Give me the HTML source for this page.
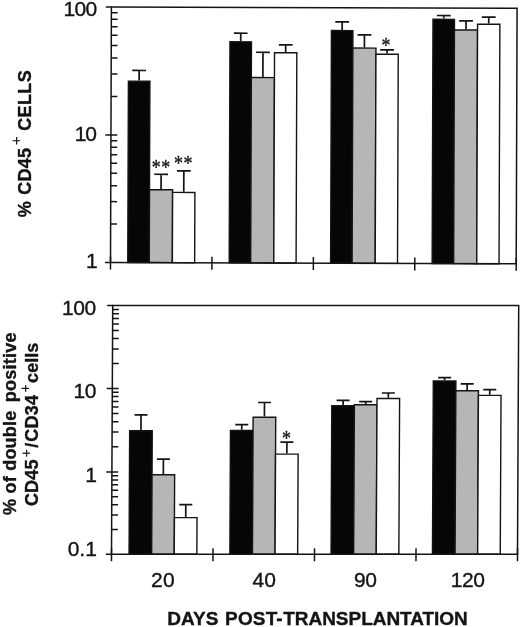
<!DOCTYPE html>
<html><head><meta charset="utf-8"><title>Figure</title><style>html,body{margin:0;padding:0;background:#fff;overflow:hidden}</style></head><body>
<svg width="520" height="627" viewBox="0 0 520 627" style="display:block;filter:blur(0.3px)">
<rect width="520" height="627" fill="#fff"/>
<g transform="translate(110.5,262.4) rotate(0.2) skewX(0) translate(-110.5,-262.4)">
<rect x="127.76" y="81.10" width="21.50" height="181.30" fill="#060606" stroke="#141414" stroke-width="1.4"/>
<path d="M138.51 80.40V70.40M131.61 70.40H145.41" fill="none" stroke="#141414" stroke-width="1.7"/>
<rect x="149.26" y="189.60" width="23.10" height="72.80" fill="#b6b6b6" stroke="#141414" stroke-width="1.4"/>
<path d="M160.81 188.90V174.10M153.91 174.10H167.71" fill="none" stroke="#141414" stroke-width="1.7"/>
<rect x="172.36" y="192.20" width="22.30" height="70.20" fill="#ffffff" stroke="#141414" stroke-width="1.4"/>
<path d="M183.51 191.50V170.60M176.61 170.60H190.41" fill="none" stroke="#141414" stroke-width="1.7"/>
<rect x="229.19" y="41.35" width="21.50" height="221.05" fill="#060606" stroke="#141414" stroke-width="1.4"/>
<path d="M239.94 40.65V32.75M233.04 32.75H246.84" fill="none" stroke="#141414" stroke-width="1.7"/>
<rect x="250.69" y="77.05" width="23.10" height="185.35" fill="#b6b6b6" stroke="#141414" stroke-width="1.4"/>
<path d="M262.24 76.35V51.75M255.34 51.75H269.14" fill="none" stroke="#141414" stroke-width="1.7"/>
<rect x="273.79" y="52.15" width="22.30" height="210.25" fill="#ffffff" stroke="#141414" stroke-width="1.4"/>
<path d="M284.94 51.45V44.25M278.04 44.25H291.84" fill="none" stroke="#141414" stroke-width="1.7"/>
<rect x="330.61" y="29.80" width="21.50" height="232.60" fill="#060606" stroke="#141414" stroke-width="1.4"/>
<path d="M341.36 29.10V21.10M334.46 21.10H348.26" fill="none" stroke="#141414" stroke-width="1.7"/>
<rect x="352.11" y="47.20" width="23.10" height="215.20" fill="#b6b6b6" stroke="#141414" stroke-width="1.4"/>
<path d="M363.66 46.50V34.00M356.76 34.00H370.56" fill="none" stroke="#141414" stroke-width="1.7"/>
<rect x="375.21" y="53.30" width="22.30" height="209.10" fill="#ffffff" stroke="#141414" stroke-width="1.4"/>
<path d="M386.36 52.60V48.90M379.46 48.90H393.26" fill="none" stroke="#141414" stroke-width="1.7"/>
<rect x="432.14" y="18.15" width="21.50" height="244.25" fill="#060606" stroke="#141414" stroke-width="1.4"/>
<path d="M442.89 17.45V14.35M435.99 14.35H449.79" fill="none" stroke="#141414" stroke-width="1.7"/>
<rect x="453.64" y="28.75" width="23.10" height="233.65" fill="#b6b6b6" stroke="#141414" stroke-width="1.4"/>
<path d="M465.19 28.05V19.65M458.29 19.65H472.09" fill="none" stroke="#141414" stroke-width="1.7"/>
<rect x="476.74" y="22.95" width="22.30" height="239.45" fill="#ffffff" stroke="#141414" stroke-width="1.4"/>
<path d="M487.89 22.25V15.85M480.99 15.85H494.79" fill="none" stroke="#141414" stroke-width="1.7"/>
<rect x="110.5" y="6.9" width="405.70000000000005" height="255.49999999999997" fill="none" stroke="#141414" stroke-width="1.5"/>
<path d="M104.90 262.40H110.50M110.5 224.05H116.80M110.5 201.61H116.80M110.5 185.70H116.80M110.5 173.35H116.80M110.5 163.26H116.80M110.5 154.73H116.80M110.5 147.35H116.80M110.5 140.83H116.80M104.90 135.00H116.80M110.5 96.44H116.80M110.5 73.88H116.80M110.5 57.88H116.80M110.5 45.46H116.80M110.5 35.32H116.80M110.5 26.74H116.80M110.5 19.31H116.80M110.5 12.76H116.80M104.90 6.90H110.50M110.50 256.40V269.40M211.93 256.40V269.40M313.35 256.40V269.40M414.78 256.40V269.40M516.20 256.40V269.40" fill="none" stroke="#141414" stroke-width="1.5"/>
</g>
<g transform="translate(111.5,554.2) skewX(-0.28) translate(-111.5,-554.2)">
<rect x="129.05" y="430.80" width="22.60" height="123.40" fill="#060606" stroke="#141414" stroke-width="1.4"/>
<path d="M140.35 430.10V414.90M133.85 414.90H146.85" fill="none" stroke="#141414" stroke-width="1.7"/>
<rect x="151.65" y="474.70" width="22.60" height="79.50" fill="#b6b6b6" stroke="#141414" stroke-width="1.4"/>
<path d="M162.95 474.00V459.20M156.45 459.20H169.45" fill="none" stroke="#141414" stroke-width="1.7"/>
<rect x="174.25" y="517.60" width="22.60" height="36.60" fill="#ffffff" stroke="#141414" stroke-width="1.4"/>
<path d="M185.55 516.90V504.60M179.05 504.60H192.05" fill="none" stroke="#141414" stroke-width="1.7"/>
<rect x="229.85" y="430.50" width="22.60" height="123.70" fill="#060606" stroke="#141414" stroke-width="1.4"/>
<path d="M241.15 429.80V424.70M234.65 424.70H247.65" fill="none" stroke="#141414" stroke-width="1.7"/>
<rect x="252.45" y="417.20" width="22.60" height="137.00" fill="#b6b6b6" stroke="#141414" stroke-width="1.4"/>
<path d="M263.75 416.50V402.50M257.25 402.50H270.25" fill="none" stroke="#141414" stroke-width="1.7"/>
<rect x="275.05" y="454.10" width="22.60" height="100.10" fill="#ffffff" stroke="#141414" stroke-width="1.4"/>
<path d="M286.35 453.40V442.20M279.85 442.20H292.85" fill="none" stroke="#141414" stroke-width="1.7"/>
<rect x="331.05" y="405.70" width="22.60" height="148.50" fill="#060606" stroke="#141414" stroke-width="1.4"/>
<path d="M342.35 405.00V400.40M335.85 400.40H348.85" fill="none" stroke="#141414" stroke-width="1.7"/>
<rect x="353.65" y="404.70" width="22.60" height="149.50" fill="#b6b6b6" stroke="#141414" stroke-width="1.4"/>
<path d="M364.95 404.00V401.70M358.45 401.70H371.45" fill="none" stroke="#141414" stroke-width="1.7"/>
<rect x="376.25" y="398.50" width="22.60" height="155.70" fill="#ffffff" stroke="#141414" stroke-width="1.4"/>
<path d="M387.55 397.80V393.00M381.05 393.00H394.05" fill="none" stroke="#141414" stroke-width="1.7"/>
<rect x="432.45" y="380.90" width="22.60" height="173.30" fill="#060606" stroke="#141414" stroke-width="1.4"/>
<path d="M443.75 380.20V377.60M437.25 377.60H450.25" fill="none" stroke="#141414" stroke-width="1.7"/>
<rect x="455.05" y="390.70" width="22.60" height="163.50" fill="#b6b6b6" stroke="#141414" stroke-width="1.4"/>
<path d="M466.35 390.00V383.80M459.85 383.80H472.85" fill="none" stroke="#141414" stroke-width="1.7"/>
<rect x="477.65" y="395.40" width="22.60" height="158.80" fill="#ffffff" stroke="#141414" stroke-width="1.4"/>
<path d="M488.95 394.70V389.60M482.45 389.60H495.45" fill="none" stroke="#141414" stroke-width="1.7"/>
<rect x="111.5" y="305.6" width="406.0" height="248.60000000000002" fill="none" stroke="#141414" stroke-width="1.5"/>
<path d="M105.90 554.20H111.50M111.5 529.43H117.80M111.5 514.93H117.80M111.5 504.65H117.80M111.5 496.67H117.80M111.5 490.16H117.80M111.5 484.65H117.80M111.5 479.88H117.80M111.5 475.67H117.80M105.90 471.90H117.80M111.5 446.79H117.80M111.5 432.11H117.80M111.5 421.69H117.80M111.5 413.61H117.80M111.5 407.00H117.80M111.5 401.42H117.80M111.5 396.58H117.80M111.5 392.32H117.80M105.90 388.50H117.80M111.5 363.54H117.80M111.5 348.95H117.80M111.5 338.59H117.80M111.5 330.56H117.80M111.5 323.99H117.80M111.5 318.44H117.80M111.5 313.63H117.80M111.5 309.39H117.80M105.90 305.60H111.50M111.50 548.20V561.20M213.00 548.20V561.20M314.50 548.20V561.20M416.00 548.20V561.20M517.50 548.20V561.20" fill="none" stroke="#141414" stroke-width="1.5"/>
</g>
<text transform="translate(63.52,16.10) scale(1.0,1)" font-family="Liberation Sans, sans-serif" font-size="21" font-weight="normal" letter-spacing="-0.727" fill="#141414" stroke="#141414" stroke-width="0.35">100</text>
<text transform="translate(74.72,140.80) scale(1.0,1)" font-family="Liberation Sans, sans-serif" font-size="21" font-weight="normal" letter-spacing="-1.247" fill="#141414" stroke="#141414" stroke-width="0.35">10</text>
<text x="97.60" y="267.80" text-anchor="end" font-family="Liberation Sans, sans-serif" font-size="21" font-weight="normal" fill="#141414" stroke="#141414" stroke-width="0.35">1</text>
<text transform="translate(62.02,315.30) scale(1.0,1)" font-family="Liberation Sans, sans-serif" font-size="21" font-weight="normal" letter-spacing="-0.377" fill="#141414" stroke="#141414" stroke-width="0.35">100</text>
<text transform="translate(73.52,398.40) scale(1.0,1)" font-family="Liberation Sans, sans-serif" font-size="21" font-weight="normal" letter-spacing="-0.547" fill="#141414" stroke="#141414" stroke-width="0.35">10</text>
<text x="96.90" y="482.10" text-anchor="end" font-family="Liberation Sans, sans-serif" font-size="21" font-weight="normal" fill="#141414" stroke="#141414" stroke-width="0.35">1</text>
<text x="96.90" y="556.00" text-anchor="end" font-family="Liberation Sans, sans-serif" font-size="21" font-weight="normal" fill="#141414" stroke="#141414" stroke-width="0.35">0.1</text>
<text transform="translate(150.95,587.00) scale(1.0,1)" font-family="Liberation Sans, sans-serif" font-size="21" font-weight="normal" letter-spacing="0.328" fill="#141414" stroke="#141414" stroke-width="0.35">20</text>
<text transform="translate(252.53,587.00) scale(1.0,1)" font-family="Liberation Sans, sans-serif" font-size="21" font-weight="normal" letter-spacing="-0.050" fill="#141414" stroke="#141414" stroke-width="0.35">40</text>
<text transform="translate(354.00,587.10) scale(1.0,1)" font-family="Liberation Sans, sans-serif" font-size="21" font-weight="normal" letter-spacing="-0.425" fill="#141414" stroke="#141414" stroke-width="0.35">90</text>
<text transform="translate(450.73,587.10) scale(1.0,1)" font-family="Liberation Sans, sans-serif" font-size="21" font-weight="normal" letter-spacing="-0.427" fill="#141414" stroke="#141414" stroke-width="0.35">120</text>
<text transform="translate(167.32,624.60) scale(1.055,1)" font-family="Liberation Sans, sans-serif" font-size="18" font-weight="bold" letter-spacing="0.002" fill="#141414" stroke="#141414" stroke-width="0.35">DAYS</text>
<text transform="translate(225.12,624.60) scale(1.055,1)" font-family="Liberation Sans, sans-serif" font-size="18" font-weight="bold" letter-spacing="0.135" fill="#141414" stroke="#141414" stroke-width="0.35">POST-</text>
<text transform="translate(283.26,624.60) scale(1.055,1)" font-family="Liberation Sans, sans-serif" font-size="18" font-weight="bold" letter-spacing="-0.030" fill="#141414" stroke="#141414" stroke-width="0.35">TRANSPLANTATION</text>
<text transform="translate(30.50,216.80) rotate(-90)" x="-0.54" y="0" font-family="Liberation Sans, sans-serif" font-size="18" font-weight="bold" letter-spacing="0.000" fill="#141414" stroke="#141414" stroke-width="0.35">%</text>
<text transform="translate(30.50,194.60) rotate(-90)" x="-0.22" y="0" font-family="Liberation Sans, sans-serif" font-size="18" font-weight="bold" letter-spacing="0.275" fill="#141414" stroke="#141414" stroke-width="0.35">CD45</text>
<text transform="translate(20.90,144.80) rotate(-90)" x="-0.53" y="0" font-family="Liberation Sans, sans-serif" font-size="15.5" font-weight="normal" letter-spacing="0.000" fill="#141414" stroke="#141414" stroke-width="0.15">+</text>
<text transform="translate(30.50,130.60) rotate(-90)" x="-0.22" y="0" font-family="Liberation Sans, sans-serif" font-size="18" font-weight="bold" letter-spacing="0.386" fill="#141414" stroke="#141414" stroke-width="0.35">CELLS</text>
<text transform="translate(15.50,515.00) rotate(-90)" x="0.05" y="0" font-family="Liberation Sans, sans-serif" font-size="18" font-weight="bold" letter-spacing="0.226" fill="#141414" stroke="#141414" stroke-width="0.35">% of double</text>
<text transform="translate(15.50,401.50) rotate(-90)" x="-0.67" y="0" font-family="Liberation Sans, sans-serif" font-size="18" font-weight="bold" letter-spacing="0.237" fill="#141414" stroke="#141414" stroke-width="0.35">positive</text>
<text transform="translate(37.80,505.80) rotate(-90)" x="-0.22" y="0" font-family="Liberation Sans, sans-serif" font-size="18" font-weight="bold" letter-spacing="0.142" fill="#141414" stroke="#141414" stroke-width="0.35">CD45</text>
<text transform="translate(30.90,456.50) rotate(-90)" x="-0.65" y="0" font-family="Liberation Sans, sans-serif" font-size="14" font-weight="normal" letter-spacing="0.000" fill="#141414" stroke="#141414" stroke-width="0.15">+</text>
<text transform="translate(37.80,447.70) rotate(-90)" x="0.00" y="0" font-family="Liberation Sans, sans-serif" font-size="18" font-weight="bold" letter-spacing="0.000" fill="#141414" stroke="#141414" stroke-width="0.35">/</text>
<text transform="translate(37.80,441.50) rotate(-90)" x="-0.22" y="0" font-family="Liberation Sans, sans-serif" font-size="18" font-weight="bold" letter-spacing="0.240" fill="#141414" stroke="#141414" stroke-width="0.35">CD34</text>
<text transform="translate(30.40,391.90) rotate(-90)" x="-0.65" y="0" font-family="Liberation Sans, sans-serif" font-size="14" font-weight="normal" letter-spacing="0.000" fill="#141414" stroke="#141414" stroke-width="0.15">+</text>
<text transform="translate(37.80,382.70) rotate(-90)" x="-0.22" y="0" font-family="Liberation Sans, sans-serif" font-size="18" font-weight="bold" letter-spacing="0.059" fill="#141414" stroke="#141414" stroke-width="0.35">cells</text>
<text transform="translate(161,173.6) scale(0.85,1)" x="0.4" y="0" font-family="Liberation Serif, serif" font-size="21" letter-spacing="0.8" text-anchor="middle" fill="#141414" stroke="#141414" stroke-width="0.4">**</text>
<text transform="translate(183.2,170.2) scale(0.85,1)" x="0.4" y="0" font-family="Liberation Serif, serif" font-size="21" letter-spacing="0.8" text-anchor="middle" fill="#141414" stroke="#141414" stroke-width="0.4">**</text>
<text transform="translate(386,52.0) scale(0.85,1)" x="0" y="0" font-family="Liberation Serif, serif" font-size="21" letter-spacing="0" text-anchor="middle" fill="#141414" stroke="#141414" stroke-width="0.4">*</text>
<text transform="translate(286.5,445.4) scale(0.85,1)" x="0" y="0" font-family="Liberation Serif, serif" font-size="21" letter-spacing="0" text-anchor="middle" fill="#141414" stroke="#141414" stroke-width="0.4">*</text>
</svg>
</body></html>
